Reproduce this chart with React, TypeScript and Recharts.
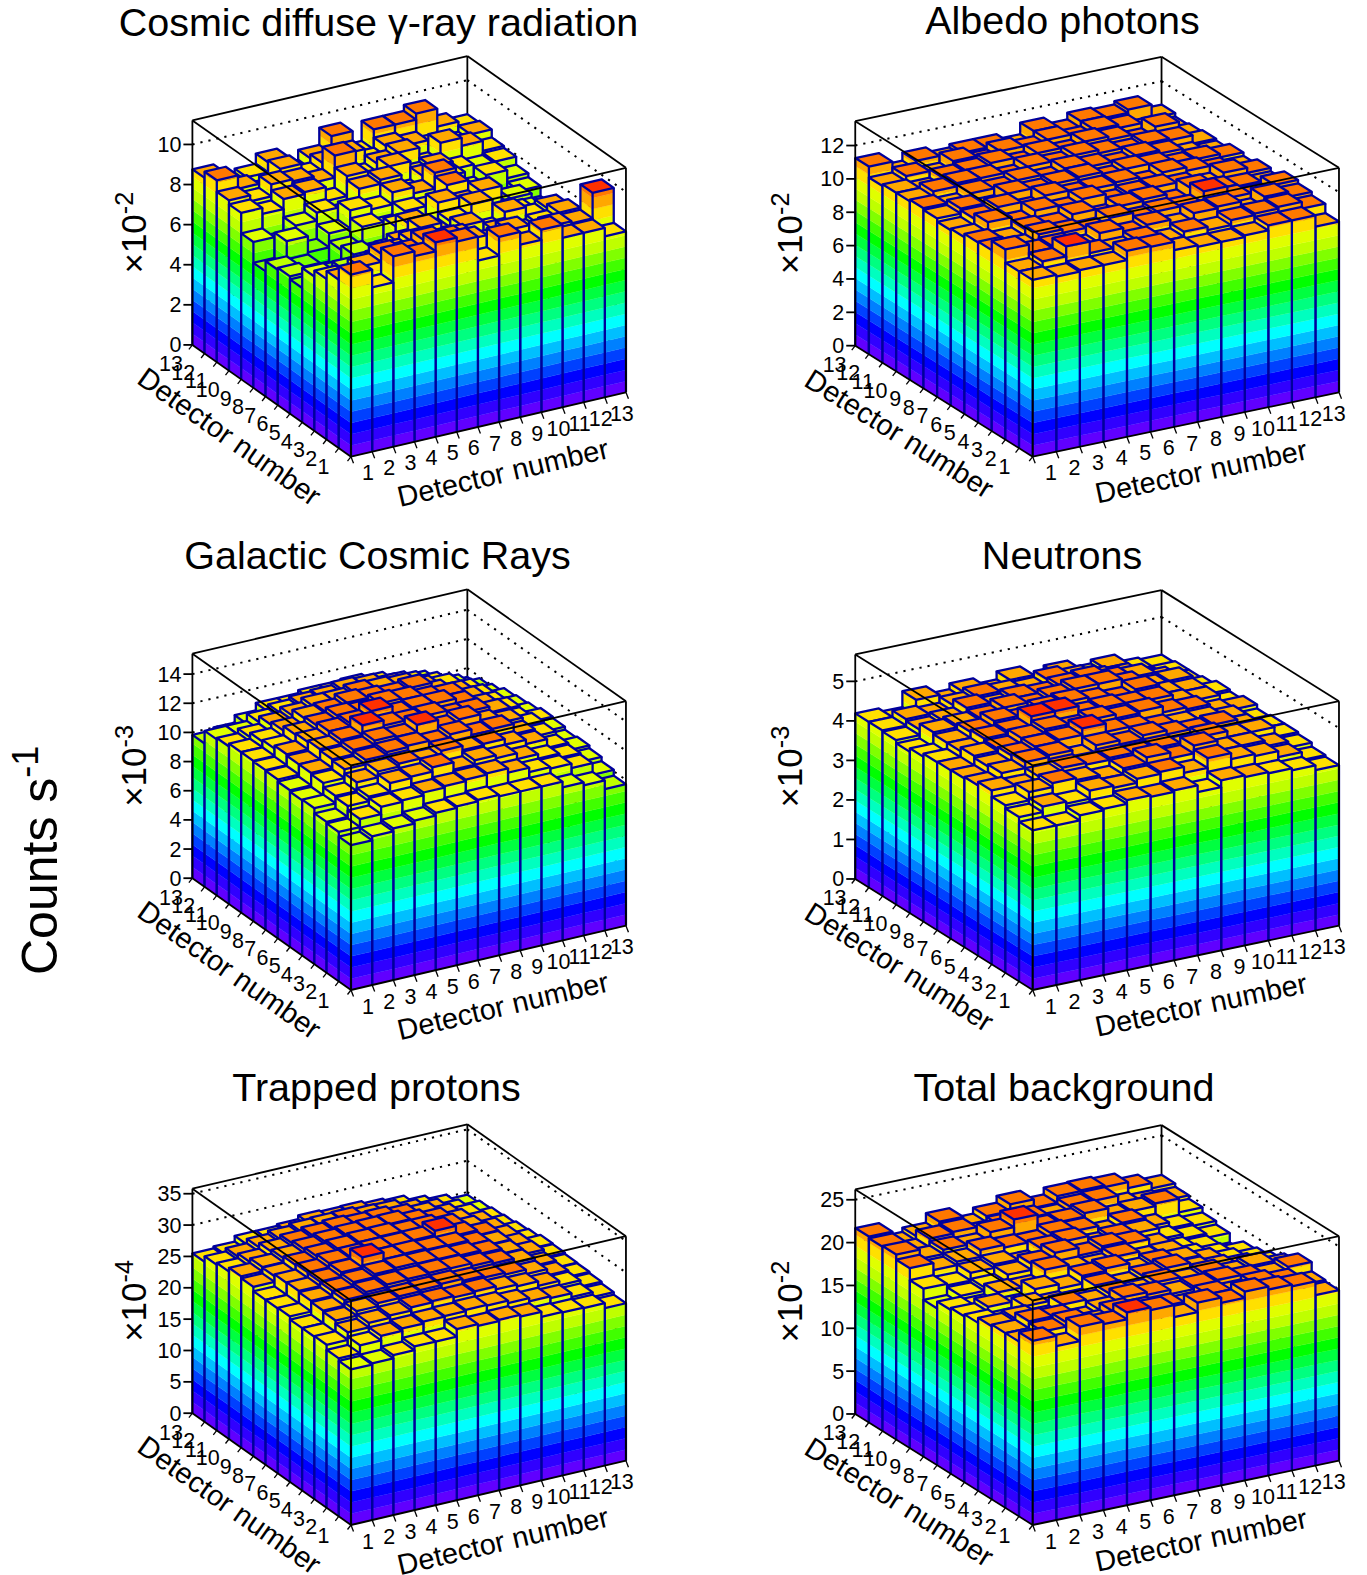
import { ScatterChart, Scatter, XAxis, YAxis } from 'recharts'

// rows run from detector 1 (front) to 13 (back), columns from detector 1 to 13
const detectors = [1, 2, 3, 4, 5, 6, 7, 8, 9, 10, 11, 12, 13]

const cosmicDiffuse = [
  [9.08, 8.2, 9.5, 9.26, 9.7, 9.5, 8.3, 9.24, 8.6, 9.1, 8.45, 8.45, 8.03],
  [8.4, 8.8, 9.2, 9.0, 9.4, 9.2, 8.9, 8.6, 8.9, 8.4, 8.6, 8.5, 9.77],
  [8.0, 7.6, 8.1, 8.6, 8.9, 8.2, 8.6, 8.0, 8.4, 8.1, 8.3, 8.6, 7.9],
  [7.7, 7.2, 6.6, 7.8, 8.4, 8.9, 8.1, 8.5, 8.0, 8.7, 8.2, 8.4, 7.6],
  [6.7, 6.4, 7.1, 6.7, 7.6, 8.7, 8.0, 8.3, 8.9, 7.8, 8.0, 7.2, 6.9],
  [6.85, 6.3, 6.5, 7.2, 7.0, 8.1, 7.5, 8.8, 8.5, 8.9, 7.6, 7.4, 7.0],
  [6.75, 6.6, 6.0, 7.0, 7.9, 7.6, 8.2, 8.1, 9.0, 8.3, 7.3, 7.6, 6.8],
  [6.24, 7.5, 6.7, 7.4, 8.3, 8.1, 8.7, 8.4, 9.18, 8.0, 7.6, 7.0, 7.3],
  [7.28, 6.9, 7.6, 8.0, 7.6, 8.7, 8.9, 8.0, 8.6, 8.3, 7.4, 7.9, 7.5],
  [8.3, 8.0, 8.5, 8.6, 7.9, 8.9, 8.3, 8.9, 8.2, 8.4, 8.0, 7.8, 7.9],
  [8.5, 8.2, 8.8, 8.7, 8.4, 9.5, 8.2, 8.6, 8.9, 8.0, 8.9, 8.5, 8.0],
  [9.07, 8.4, 8.0, 8.9, 8.3, 8.7, 8.9, 8.3, 8.8, 8.6, 8.3, 8.1, 8.4],
  [8.76, 8.1, 8.3, 8.8, 8.0, 8.5, 9.36, 8.2, 9.2, 9.2, 9.5, 8.6, 8.3],
]

const albedoPhotons = [
  [10.6, 10.5, 10.6, 10.6, 11.15, 11.1, 10.6, 10.5, 10.5, 10.6, 10.9, 10.9, 10.24],
  [10.6, 10.9, 11.5, 10.8, 10.7, 11.0, 10.6, 10.9, 10.7, 11.0, 11.1, 11.2, 10.8],
  [11.4, 10.9, 11.0, 10.6, 11.2, 10.8, 11.1, 10.7, 11.2, 11.3, 10.7, 11.3, 11.0],
  [10.85, 10.7, 11.2, 11.0, 10.8, 11.3, 10.9, 11.1, 11.0, 11.7, 11.0, 10.8, 11.2],
  [10.8, 10.6, 11.0, 10.9, 11.3, 10.8, 11.2, 11.3, 10.8, 11.4, 11.0, 10.9, 10.7],
  [10.6, 11.2, 10.8, 11.3, 11.0, 11.4, 10.9, 11.1, 11.2, 11.0, 10.7, 11.2, 10.9],
  [10.5, 10.9, 11.3, 10.8, 11.4, 11.1, 11.2, 11.3, 10.9, 11.3, 11.1, 10.8, 10.6],
  [10.7, 11.0, 10.7, 11.3, 11.1, 11.3, 11.4, 11.0, 11.3, 11.2, 10.9, 11.0, 10.8],
  [10.8, 10.6, 11.1, 11.0, 11.3, 11.0, 11.4, 11.2, 11.0, 11.3, 11.1, 10.7, 10.5],
  [10.7, 11.0, 11.2, 11.2, 10.9, 11.3, 11.1, 11.4, 11.2, 11.0, 11.2, 11.1, 10.6],
  [10.7, 10.5, 11.0, 11.1, 11.3, 10.9, 11.3, 11.0, 11.4, 11.2, 10.8, 11.4, 10.5],
  [10.6, 10.9, 10.6, 11.2, 10.8, 11.2, 11.0, 11.3, 11.0, 11.3, 11.1, 10.7, 10.4],
  [11.25, 10.5, 11.0, 10.7, 10.9, 10.9, 10.6, 11.3, 10.9, 11.3, 11.2, 11.4, 10.6],
]

const galacticRays = [
  [9.93, 10.2, 10.4, 10.6, 10.8, 10.9, 11.0, 10.9, 10.9, 10.9, 10.5, 10.3, 9.7],
  [10.25, 10.8, 11.3, 11.4, 11.6, 11.7, 11.8, 11.9, 11.6, 11.3, 11.2, 10.9, 10.1],
  [10.35, 11.1, 11.4, 12.0, 12.1, 12.4, 11.9, 12.2, 12.0, 11.6, 11.3, 11.0, 10.4],
  [10.7, 11.2, 11.8, 12.2, 12.4, 12.2, 12.6, 12.3, 12.4, 12.0, 11.7, 11.1, 10.6],
  [10.65, 11.5, 12.1, 12.4, 12.6, 12.7, 12.5, 12.8, 12.4, 12.5, 11.8, 11.3, 10.5],
  [10.75, 11.6, 12.2, 12.5, 12.8, 12.7, 13.2, 12.6, 12.9, 12.3, 12.0, 11.4, 10.7],
  [10.9, 11.6, 12.3, 12.6, 13.26, 12.9, 12.8, 12.9, 12.5, 12.5, 12.1, 11.2, 10.8],
  [10.95, 11.7, 12.2, 12.6, 12.8, 13.3, 12.7, 12.8, 12.8, 12.4, 11.9, 11.3, 10.6],
  [11.0, 11.5, 12.1, 12.4, 12.7, 12.6, 12.9, 12.8, 12.5, 12.4, 11.8, 11.1, 10.5],
  [11.0, 11.4, 11.8, 12.3, 12.4, 12.7, 12.6, 12.5, 12.7, 12.0, 11.6, 11.0, 10.4],
  [10.8, 11.1, 11.6, 11.9, 12.2, 12.2, 12.4, 12.3, 12.2, 11.7, 11.5, 10.8, 10.1],
  [10.7, 10.7, 11.2, 11.5, 11.7, 11.8, 12.0, 11.9, 11.6, 11.4, 11.0, 10.5, 9.9],
  [9.83, 10.0, 10.5, 11.0, 11.0, 11.2, 11.2, 11.3, 11.1, 10.8, 10.5, 9.8, 9.4],
]

const neutrons = [
  [4.04, 4.04, 4.17, 4.21, 4.3, 4.26, 4.3, 4.13, 4.3, 4.26, 4.23, 4.18, 4.06],
  [4.16, 4.3, 4.25, 4.45, 4.4, 4.5, 4.55, 4.4, 4.65, 4.5, 4.45, 4.3, 4.1],
  [4.24, 4.45, 4.55, 4.5, 4.4, 4.55, 4.7, 4.55, 4.75, 4.5, 4.5, 4.35, 4.2],
  [4.4, 4.35, 4.5, 4.6, 4.55, 4.6, 4.55, 4.6, 4.5, 4.65, 4.5, 4.5, 4.25],
  [4.31, 4.5, 4.65, 4.7, 4.5, 4.7, 4.6, 4.7, 4.6, 4.55, 4.6, 4.4, 4.25],
  [4.27, 4.45, 4.6, 4.7, 4.75, 4.91, 4.7, 4.65, 4.55, 4.5, 4.5, 4.4, 4.2],
  [4.26, 4.5, 4.55, 4.7, 4.8, 4.7, 4.8, 4.7, 4.75, 4.6, 4.55, 4.35, 4.3],
  [4.25, 4.4, 4.6, 4.65, 4.91, 4.92, 4.7, 4.75, 4.7, 4.7, 4.5, 4.45, 4.2],
  [4.17, 4.4, 4.55, 4.7, 4.6, 4.75, 4.8, 4.7, 4.6, 4.75, 4.5, 4.45, 4.25],
  [4.08, 4.45, 4.5, 4.55, 4.7, 4.6, 4.7, 4.8, 4.8, 4.65, 4.45, 4.5, 4.15],
  [4.16, 4.3, 4.4, 4.6, 4.5, 4.6, 4.55, 4.65, 4.7, 4.55, 4.5, 4.3, 4.1],
  [4.19, 4.35, 4.3, 4.45, 4.55, 4.5, 4.45, 4.6, 4.5, 4.35, 4.3, 4.05, 4.1],
  [4.19, 4.1, 4.5, 4.3, 4.45, 4.3, 4.5, 4.2, 4.4, 4.2, 4.3, 4.1, 4.05],
]

const trappedProtons = [
  [24.8, 25.0, 25.5, 26.1, 26.1, 27.3, 27.0, 27.2, 26.9, 26.1, 26.0, 25.9, 25.1],
  [25.2, 26.5, 27.2, 27.6, 27.9, 28.0, 28.2, 28.1, 27.7, 27.2, 26.9, 26.3, 25.5],
  [26.0, 27.2, 27.9, 28.3, 28.8, 29.0, 28.8, 29.0, 28.5, 28.2, 27.5, 26.8, 25.8],
  [25.9, 27.7, 28.4, 28.9, 29.2, 29.4, 29.6, 29.3, 29.0, 28.7, 28.0, 27.0, 26.0],
  [25.9, 27.9, 28.8, 29.3, 29.7, 29.8, 30.0, 29.9, 29.5, 29.1, 28.4, 27.2, 26.1],
  [26.4, 28.1, 28.9, 29.5, 30.0, 30.2, 30.1, 30.0, 29.8, 29.3, 28.5, 27.6, 26.3],
  [26.3, 28.3, 29.0, 29.7, 31.3, 30.2, 30.3, 30.1, 30.0, 29.3, 28.6, 27.5, 26.4],
  [26.3, 28.2, 29.1, 29.8, 30.0, 30.2, 30.2, 30.3, 31.0, 29.5, 28.7, 27.4, 26.0],
  [27.0, 27.9, 28.9, 29.5, 29.9, 30.2, 30.3, 30.0, 30.0, 29.4, 28.3, 27.2, 25.8],
  [27.3, 28.0, 28.6, 29.2, 29.6, 29.9, 30.0, 30.1, 29.5, 29.0, 28.0, 26.9, 25.5],
  [26.7, 27.4, 28.3, 28.8, 29.2, 29.5, 29.3, 29.4, 29.0, 28.5, 27.5, 26.7, 25.3],
  [26.4, 26.9, 27.6, 28.1, 28.5, 28.6, 28.7, 28.4, 28.3, 27.6, 26.9, 26.0, 25.0],
  [25.5, 25.8, 26.7, 26.7, 27.0, 27.6, 27.4, 27.5, 27.1, 26.8, 26.0, 25.4, 24.6],
]

const totalBackground = [
  [21.5, 20.3, 22.0, 21.7, 22.5, 22.2, 20.8, 21.9, 21.3, 22.05, 21.7, 21.5, 19.9],
  [20.4, 21.0, 21.5, 20.8, 21.6, 21.2, 21.0, 20.6, 21.3, 20.9, 21.4, 21.0, 20.1],
  [20.4, 21.2, 21.0, 20.2, 20.8, 21.7, 21.4, 20.9, 21.2, 21.4, 21.0, 20.7, 21.2],
  [20.2, 20.5, 19.9, 21.0, 20.6, 21.1, 20.7, 21.3, 20.8, 21.2, 20.5, 20.9, 20.2],
  [19.6, 19.2, 20.4, 20.0, 19.7, 21.0, 20.5, 21.0, 21.4, 20.6, 20.2, 19.8, 19.4],
  [19.35, 19.9, 19.3, 20.8, 20.3, 21.2, 21.5, 20.6, 21.0, 20.7, 20.0, 19.4, 18.9],
  [19.1, 18.8, 20.0, 19.9, 21.5, 20.9, 20.7, 21.3, 20.4, 20.5, 19.5, 19.0, 18.6],
  [18.3, 19.2, 19.6, 20.5, 21.2, 21.9, 21.0, 21.5, 21.2, 20.3, 19.3, 18.9, 17.5],
  [19.6, 19.4, 20.3, 20.7, 20.2, 21.4, 21.7, 20.6, 21.0, 20.9, 19.6, 19.1, 18.6],
  [21.0, 20.2, 20.6, 21.4, 21.1, 21.0, 21.6, 21.3, 20.4, 21.1, 20.0, 19.3, 19.0],
  [21.6, 20.5, 21.0, 20.8, 21.9, 22.8, 21.2, 21.4, 21.8, 20.7, 20.9, 21.2, 19.6],
  [21.5, 20.3, 21.3, 21.5, 20.7, 21.1, 21.3, 20.9, 21.5, 21.7, 20.5, 20.2, 20.0],
  [21.7, 20.1, 20.6, 21.7, 20.5, 21.2, 22.0, 21.0, 21.8, 21.9, 21.7, 21.0, 20.4],
]

const PALETTE = [
  '#6000ff', '#3000ff', '#0000ff', '#0040ff', '#0080ff', '#00bfff', '#00ffff', '#00ffbf', '#00ff80', '#00ff40',
  '#00ff00', '#40ff00', '#80ff00', '#bfff00', '#e0ff00', '#ffe000', '#ffa800', '#ff7800', '#ff3000', '#ff0000',
]
const OUTLINE = '#00009c'
const FONT = '"Liberation Sans", Arial, sans-serif'
const BOX_HEIGHT = 224.5
const LEVELS = 20

const leftColumn = { left: 0, width: 683, frontX: 351, ux: 21.15, uy: -4.95, vx: -12.2, vy: -8.6 }
const rightColumn = { left: 683, width: 684, frontX: 349.7, ux: 23.56, uy: -4.95, vx: -13.65, vy: -8.54 }
const rows = [
  { top: 0, height: 533, floorY: 456.7 },
  { top: 533, height: 533, floorY: 457 },
  { top: 1057, height: 518, floorY: 468 },
]

const panels = [
  { title: 'Cosmic diffuse γ-ray radiation', values: cosmicDiffuse, zMax: 11.2, zTicks: [0, 2, 4, 6, 8, 10], exp: '-2', col: leftColumn, row: rows[0], titleX: 378.5, titleY: 36 },
  { title: 'Albedo photons', values: albedoPhotons, zMax: 13.46, zTicks: [0, 2, 4, 6, 8, 10, 12], exp: '-2', col: rightColumn, row: rows[0], titleX: 379.5, titleY: 34 },
  { title: 'Galactic Cosmic Rays', values: galacticRays, zMax: 15.4, zTicks: [0, 2, 4, 6, 8, 10, 12, 14], exp: '-3', col: leftColumn, row: rows[1], titleX: 377.5, titleY: 36 },
  { title: 'Neutrons', values: neutrons, zMax: 5.68, zTicks: [0, 1, 2, 3, 4, 5], exp: '-3', col: rightColumn, row: rows[1], titleX: 379, titleY: 36 },
  { title: 'Trapped protons', values: trappedProtons, zMax: 35.8, zTicks: [0, 5, 10, 15, 20, 25, 30, 35], exp: '-4', col: leftColumn, row: rows[2], titleX: 376.5, titleY: 44 },
  { title: 'Total background', values: totalBackground, zMax: 26.2, zTicks: [0, 5, 10, 15, 20, 25], exp: '-2', col: rightColumn, row: rows[2], titleX: 381, titleY: 44 },
]

function buildBars(values: number[][]) {
  const bars: any[] = []
  for (let j = detectors.length - 1; j >= 0; j--) {
    for (let i = detectors.length - 1; i >= 0; i--) {
      bars.push({
        i,
        j,
        value: values[j][i],
        belowFront: j > 0 ? values[j - 1][i] : 0,
        belowSide: i > 0 ? values[j][i - 1] : 0,
      })
    }
  }
  return bars
}

// faces between z0 and h, split at the colour levels
function faceBands(ax: number, ay: number, bx: number, by: number, z0: number, h: number, step: number, scale: number) {
  const out = []
  const first = Math.floor(z0 / step)
  const last = Math.min(LEVELS - 1, Math.floor(h / step))
  for (let k = first; k <= last; k++) {
    const lo = Math.max(k * step, z0) * scale
    const hi = Math.min((k + 1) * step, h) * scale
    if (hi <= lo) continue
    out.push(
      <polygon
        key={k}
        points={`${ax},${ay - lo} ${bx},${by - lo} ${bx},${by - hi} ${ax},${ay - hi}`}
        fill={PALETTE[k]}
        stroke={PALETTE[k]}
        strokeWidth={0.3}
      />,
    )
  }
  return out
}

function makeBarShape(col: any, zMax: number) {
  const scale = BOX_HEIGHT / zMax
  const step = zMax / LEVELS
  return (props: any) => {
    const { cx, cy, payload } = props
    const h = payload.value
    const hp = h * scale
    const rx = cx + col.ux
    const ry = cy + col.uy
    const lx = cx + col.vx
    const ly = cy + col.vy
    const bx = rx + col.vx
    const by = ry + col.vy
    const z0r = Math.min(payload.belowFront, h)
    const z0l = Math.min(payload.belowSide, h)
    const topColor = PALETTE[Math.min(LEVELS - 1, Math.floor(h / step) + 1)]
    const edges =
      `M${cx},${cy - Math.min(z0r, z0l) * scale}L${cx},${cy - hp}` +
      `M${rx},${ry - z0r * scale}L${rx},${ry - hp}` +
      `M${lx},${ly - z0l * scale}L${lx},${ly - hp}`
    return (
      <g>
        {faceBands(lx, ly, cx, cy, z0l, h, step, scale)}
        {faceBands(cx, cy, rx, ry, z0r, h, step, scale)}
        <polygon
          points={`${cx},${cy - hp} ${rx},${ry - hp} ${bx},${by - hp} ${lx},${ly - hp}`}
          fill={topColor}
          stroke={OUTLINE}
          strokeWidth={2.3}
          strokeLinejoin="round"
        />
        <path d={edges} stroke={OUTLINE} strokeWidth={2.3} fill="none" />
      </g>
    )
  }
}

const SegmentShape = (props: any) => {
  const { cx, cy, payload } = props
  return (
    <line
      x1={cx}
      y1={cy}
      x2={cx + payload.dx}
      y2={cy + payload.dy}
      stroke="#000"
      strokeWidth={payload.width ?? 1.8}
      strokeDasharray={payload.dash}
    />
  )
}

const TextShape = (props: any) => {
  const { cx, cy, payload } = props
  const size = payload.size
  return (
    <text
      x={cx}
      y={cy}
      fontFamily={FONT}
      fontSize={size}
      fill="#000"
      textAnchor={payload.anchor ?? 'middle'}
      transform={payload.rotate ? `rotate(${payload.rotate} ${cx} ${cy})` : undefined}
    >
      {payload.label}
      {payload.sup ? (
        <tspan dy={-size * 0.38} fontSize={size * 0.72}>
          {payload.sup}
        </tspan>
      ) : null}
    </text>
  )
}

function seg(x: number, y: number, dx: number, dy: number, extra: any = {}) {
  return { x, y, dx, dy, ...extra }
}

function Panel({ panel }: { panel: any }) {
  const { col, row, zMax, zTicks } = panel
  const n = detectors.length
  const fx = col.frontX
  const fy = row.floorY
  const ax = col.ux * n
  const ay = col.uy * n
  const bx = col.vx * n
  const by = col.vy * n
  const H = BOX_HEIGHT
  const scale = H / zMax

  const backLines: any[] = []
  zTicks.forEach((t: number) => {
    if (t === 0) return
    const z = t * scale
    backLines.push(seg(fx + bx, fy + by - z, ax, ay, { dash: '2.2 6', width: 2 }))
    backLines.push(seg(fx + ax + bx, fy + ay + by - z, -bx, -by, { dash: '2.2 6', width: 2 }))
  })
  backLines.push(seg(fx + ax + bx, fy + ay + by, 0, -H))
  backLines.push(seg(fx + bx, fy + by - H, ax, ay))
  backLines.push(seg(fx + ax + bx, fy + ay + by - H, -bx, -by))

  const frontLines: any[] = [
    seg(fx, fy, 0, -H),
    seg(fx + bx, fy + by, 0, -H),
    seg(fx + ax, fy + ay, 0, -H),
    seg(fx, fy - H, ax, ay),
    seg(fx, fy - H, bx, by),
    seg(fx, fy, ax, ay),
    seg(fx, fy, bx, by),
  ]
  for (let k = 0; k <= n; k++) {
    frontLines.push(seg(fx + col.ux * k, fy + col.uy * k, 2.5, 6.5, { width: 1.3 }))
    frontLines.push(seg(fx + col.vx * k, fy + col.vy * k, -3.5, 4.5, { width: 1.3 }))
  }
  zTicks.forEach((t: number) => {
    frontLines.push(seg(fx + bx, fy + by - t * scale, -9, 0))
  })

  const isLeft = col === leftColumn
  const texts: any[] = [
    { x: panel.titleX, y: panel.titleY, label: panel.title, size: 39.5 },
    {
      x: fx + ax * 0.55 + (isLeft ? 3 : 2),
      y: fy + ay * 0.55 + (isLeft ? 61 : 60),
      label: 'Detector number',
      size: 29,
      rotate: (Math.atan2(ay, ax) * 180) / Math.PI,
    },
    {
      x: fx + bx * 0.5 - (isLeft ? 48 : 50),
      y: fy + by * 0.5 + (isLeft ? 44 : 41),
      label: 'Detector number',
      size: 29,
      rotate: (Math.atan2(-by, -bx) * 180) / Math.PI,
    },
    {
      x: fx + bx - (isLeft ? 46 : 53),
      y: fy + by - H * 0.5,
      label: '×10',
      sup: panel.exp,
      size: 35,
      rotate: -90,
    },
  ]
  detectors.forEach((d, k) => {
    texts.push({
      x: fx + col.ux * (k + 0.5) + 6.5,
      y: fy + col.uy * (k + 0.5) + 26,
      label: String(d),
      size: 21.5,
    })
    texts.push({
      x: fx + col.vx * (k + 0.5) - 15.5,
      y: fy + col.vy * (k + 0.5) + 22,
      label: String(d),
      size: 21.5,
      anchor: 'end',
    })
  })
  zTicks.forEach((t: number) => {
    texts.push({ x: fx + bx - 11, y: fy + by - t * scale + 7.5, label: String(t), size: 21.5, anchor: 'end' })
  })
  if (panel === panels[2]) {
    texts.push({ x: 57, y: 442, label: 'Counts s', sup: '-1', size: 50, anchor: 'start', rotate: -90 })
  }

  const bars = buildBars(panel.values).map((b) => ({
    ...b,
    x: fx + col.ux * b.i + col.vx * b.j,
    y: fy + col.uy * b.i + col.vy * b.j,
  }))

  return (
    <div style={{ position: 'absolute', left: col.left, top: row.top }}>
      <ScatterChart width={col.width} height={row.height} margin={{ top: 0, right: 0, bottom: 0, left: 0 }}>
        <XAxis type="number" dataKey="x" domain={[0, col.width]} hide />
        <YAxis type="number" dataKey="y" domain={[0, row.height]} reversed hide />
        <Scatter data={backLines} shape={SegmentShape} isAnimationActive={false} />
        <Scatter data={bars} shape={makeBarShape(col, zMax)} isAnimationActive={false} />
        <Scatter data={frontLines} shape={SegmentShape} isAnimationActive={false} />
        <Scatter data={texts} shape={TextShape} isAnimationActive={false} />
      </ScatterChart>
    </div>
  )
}

export default function App() {
  return (
    <div style={{ position: 'absolute', left: 0, top: 0, width: 1367, height: 1575, background: '#fff' }}>
      {panels.map((p) => (
        <Panel key={p.title} panel={p} />
      ))}
    </div>
  )
}
